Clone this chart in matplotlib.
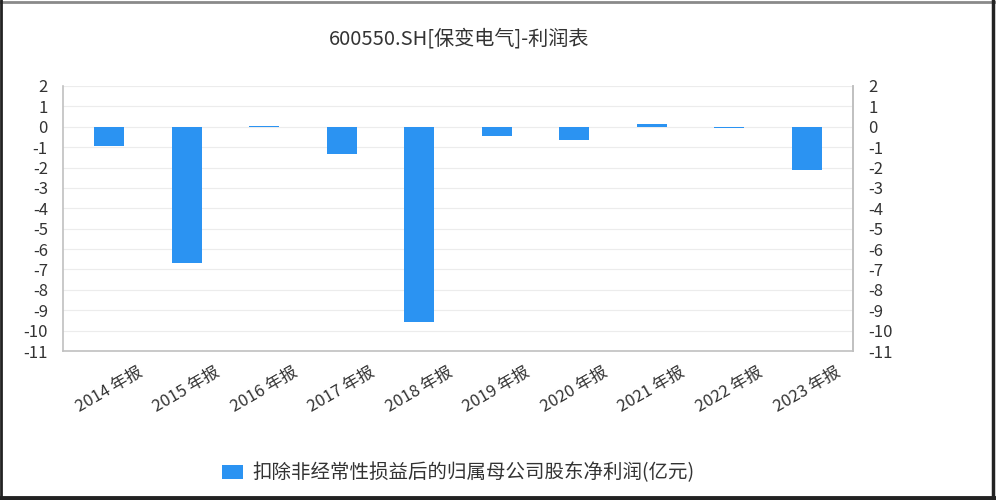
import numpy as np
import matplotlib.pyplot as plt
from matplotlib.ticker import MultipleLocator
from matplotlib.lines import Line2D

plt.rcParams['font.family'] = ['Noto Sans CJK SC', 'DejaVu Sans']
plt.rcParams['axes.unicode_minus'] = False

# 扣非归母净利润（亿元）
years = ["2014 年报", "2015 年报", "2016 年报", "2017 年报", "2018 年报",
         "2019 年报", "2020 年报", "2021 年报", "2022 年报", "2023 年报"]
profit = [-0.96, -6.68, 0.05, -1.32, -9.6, -0.46, -0.63, 0.16, -0.05, -2.13]

bar_color = '#2b93f2'
axis_color = '#c0c0c0'
text_color = '#333333'

fig = plt.figure(figsize=(9.96, 5), dpi=100)
ax = fig.add_axes([0.0633, 0.298, 0.793, 0.53])

x = np.arange(len(years))
bars = ax.bar(x, profit, width=0.39, color=bar_color, zorder=3,
              label="扣除非经常性损益后的归属母公司股东净利润(亿元)")

ax.set_xlim(-0.594, 9.594)
ax.set_ylim(-11, 2)
ax.yaxis.set_major_locator(MultipleLocator(1))
ax.grid(axis='y', color='#ececec', linewidth=0.8, zorder=0)
ax.set_xticks(x)
ax.set_xticklabels(years, rotation=30, ha='center', va='top',
                   fontsize=12, color=text_color)
ax.tick_params(axis='x', length=0, pad=9)
ax.tick_params(axis='y', length=0, labelsize=12, labelcolor=text_color, pad=11)
ax.spines['top'].set_visible(False)
for s in ['left', 'bottom', 'right']:
    ax.spines[s].set_color(axis_color)
    ax.spines[s].set_linewidth(1.2)

ax2 = ax.twinx()
ax2.set_ylim(ax.get_ylim())
ax2.yaxis.set_major_locator(MultipleLocator(1))
ax2.tick_params(axis='y', length=0, labelsize=12, labelcolor=text_color, pad=11)
for s in ['top', 'left', 'bottom']:
    ax2.spines[s].set_visible(False)
ax2.spines['right'].set_color(axis_color)
ax2.spines['right'].set_linewidth(1.2)

fig.suptitle("600550.SH[保变电气]-利润表", x=0.461, y=0.942, fontsize=14.5,
             color=text_color)

fig.legend(handles=[bars], loc='center', bbox_to_anchor=(0.46, 0.054),
           frameon=False, fontsize=14, handlelength=1.1, handleheight=0.7,
           handletextpad=0.45, labelcolor=text_color)

# 外框
fig.add_artist(Line2D([0, 1], [0.997, 0.997], color='#8a8a8a', linewidth=2))
fig.add_artist(Line2D([0.001, 0.001], [0, 1], color='#222222', linewidth=2))
fig.add_artist(Line2D([0.997, 0.997], [0, 1], color='#222222', linewidth=2.5))
fig.add_artist(Line2D([0, 1], [0.004, 0.004], color='#222222', linewidth=3.5))

fig.savefig('out.png', dpi=100, facecolor='white')
